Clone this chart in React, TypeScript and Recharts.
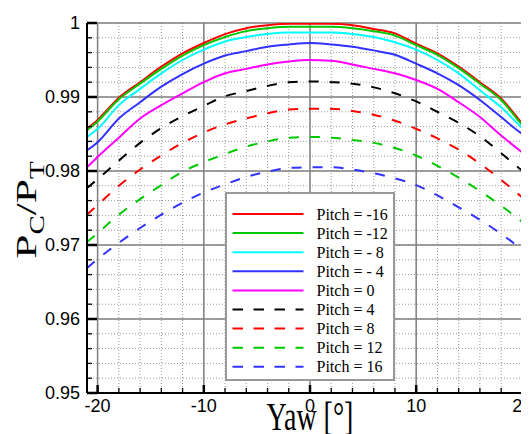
import { LineChart, Line, XAxis, YAxis, CartesianGrid, ReferenceLine, Legend } from 'recharts';

// Yaw angle samples (deg)
const yaw = [-21, -20, -18, -16, -14, -12, -10, -8, -6, -4, -2, 0, 2, 4, 6, 8, 10, 12, 14, 16, 18, 20, 21];

// Pressure ratio PC/PT for each pitch angle
const pitchM16 = [0.9857, 0.9869, 0.9899, 0.992, 0.9941, 0.9959, 0.9973, 0.9985, 0.9993, 0.9997, 0.9999, 0.9999, 0.9999, 0.9997, 0.9992, 0.9986, 0.9972, 0.9959, 0.9941, 0.992, 0.9898, 0.9864, 0.9849];
const pitchM12 = [0.9855, 0.9867, 0.9897, 0.9918, 0.9938, 0.9956, 0.997, 0.9981, 0.9989, 0.9993, 0.9995, 0.9995, 0.9995, 0.9993, 0.9989, 0.9983, 0.997, 0.9957, 0.9939, 0.9918, 0.9896, 0.9862, 0.9848];
const pitchM8 = [0.9846, 0.9857, 0.9889, 0.9911, 0.9932, 0.995, 0.9964, 0.9975, 0.9981, 0.9985, 0.9987, 0.9987, 0.9987, 0.9985, 0.9981, 0.9974, 0.9964, 0.995, 0.9932, 0.9909, 0.9886, 0.9858, 0.9846];
const pitchM4 = [0.9828, 0.9839, 0.9871, 0.9893, 0.9914, 0.9931, 0.9945, 0.9956, 0.9962, 0.9968, 0.9971, 0.9973, 0.9971, 0.9968, 0.9963, 0.9957, 0.9945, 0.9932, 0.9916, 0.9896, 0.9873, 0.985, 0.9842];
const pitch0 = [0.9805, 0.9819, 0.9845, 0.9871, 0.9889, 0.9905, 0.992, 0.9932, 0.9938, 0.9944, 0.9948, 0.995, 0.9949, 0.9944, 0.9938, 0.9932, 0.9923, 0.9911, 0.9893, 0.9873, 0.9848, 0.9825, 0.9814];
const pitch4 = [0.9777, 0.9789, 0.9814, 0.9838, 0.9858, 0.9874, 0.9888, 0.9901, 0.9908, 0.9915, 0.992, 0.9921, 0.992, 0.9918, 0.9913, 0.9905, 0.9894, 0.988, 0.9865, 0.9847, 0.9824, 0.98, 0.9787];
const pitch8 = [0.9741, 0.9754, 0.978, 0.9802, 0.9821, 0.9838, 0.9852, 0.9863, 0.9871, 0.9878, 0.9883, 0.9884, 0.9884, 0.9881, 0.9876, 0.9868, 0.9857, 0.9844, 0.9829, 0.981, 0.9788, 0.9764, 0.9751];
const pitch12 = [0.9704, 0.9716, 0.9741, 0.9762, 0.9781, 0.9799, 0.9812, 0.9823, 0.9833, 0.984, 0.9845, 0.9846, 0.9845, 0.9842, 0.9838, 0.9831, 0.9821, 0.9807, 0.9791, 0.9773, 0.9753, 0.9731, 0.9719];
const pitch16 = [0.9669, 0.9681, 0.9703, 0.9723, 0.9741, 0.9757, 0.9771, 0.9782, 0.9792, 0.9799, 0.9804, 0.9805, 0.9805, 0.9802, 0.9797, 0.979, 0.9781, 0.9767, 0.9751, 0.9734, 0.9715, 0.9693, 0.968];

const seriesNames = ['Pitch = -16', 'Pitch = -12', 'Pitch = - 8', 'Pitch = - 4', 'Pitch = 0', 'Pitch = 4', 'Pitch = 8', 'Pitch = 12', 'Pitch = 16'];

// Axis ticks: minor every 2 deg / 0.002, labels on the major ones
const xTicks = [-20, -18, -16, -14, -12, -10, -8, -6, -4, -2, 0, 2, 4, 6, 8, 10, 12, 14, 16, 18, 20];
const xMajor = [-20, -10, 0, 10, 20];
const yTicks = [
  0.95, 0.952, 0.954, 0.956, 0.958, 0.96, 0.962, 0.964, 0.966, 0.968, 0.97, 0.972, 0.974,
  0.976, 0.978, 0.98, 0.982, 0.984, 0.986, 0.988, 0.99, 0.992, 0.994, 0.996, 0.998, 1,
];
const yMajor = [0.95, 0.96, 0.97, 0.98, 0.99, 1];

const series = [
  { key: 'm16', name: seriesNames[0], values: pitchM16, color: '#ff0000', dashed: false },
  { key: 'm12', name: seriesNames[1], values: pitchM12, color: '#00c800', dashed: false },
  { key: 'm8', name: seriesNames[2], values: pitchM8, color: '#00ffff', dashed: false },
  { key: 'm4', name: seriesNames[3], values: pitchM4, color: '#3232ff', dashed: false },
  { key: 'p0', name: seriesNames[4], values: pitch0, color: '#ff00ff', dashed: false },
  { key: 'p4', name: seriesNames[5], values: pitch4, color: '#000000', dashed: true },
  { key: 'p8', name: seriesNames[6], values: pitch8, color: '#ff0000', dashed: true },
  { key: 'p12', name: seriesNames[7], values: pitch12, color: '#00c800', dashed: true },
  { key: 'p16', name: seriesNames[8], values: pitch16, color: '#3232ff', dashed: true },
];

const chartData = yaw.map((x, i) => {
  const row: Record<string, number> = { yaw: x };
  series.forEach((s) => {
    row[s.key] = s.values[i];
  });
  return row;
});

const SANS = "'Liberation Sans', Arial, sans-serif";
const SERIF = "'Liberation Serif', 'Times New Roman', serif";

const isMajorY = (v: number) => yMajor.some((m) => Math.abs(m - v) < 1e-9);

// ticks point into the plot, only major ones get a label
const XTick = ({ x, y, payload }: any) => {
  const major = xMajor.includes(payload.value);
  return (
    <g>
      <line x1={x} x2={x} y1={y} y2={y - (major ? 8 : 5)} stroke="#000" strokeWidth={major ? 2.5 : 1.3} />
      {major && (
        <text x={x} y={y + 19} textAnchor="middle" fontSize={18} fontFamily={SANS} fill="#000">
          {payload.value}
        </text>
      )}
    </g>
  );
};

const YTick = ({ x, y, payload }: any) => {
  const major = isMajorY(payload.value);
  return (
    <g>
      <line x1={x} x2={x + (major ? 10 : 5)} y1={y} y2={y} stroke="#000" strokeWidth={major ? 2.5 : 1.3} />
      {major && (
        <text x={x - 7} y={y} dy="0.36em" textAnchor="end" fontSize={18} fontFamily={SANS} fill="#000">
          {payload.value === 1 ? '1' : payload.value.toFixed(2)}
        </text>
      )}
    </g>
  );
};

// titles in the source figure are stretched vertically
const YTitle = (props: any) => {
  const vb = props.viewBox || { x: 0, y: 15, width: 79, height: 370 };
  const cx = vb.x + 28;
  const cy = vb.y + vb.height / 2 + 2;
  return (
    <text
      transform={`translate(${cx},${cy}) rotate(-90) scale(1.45,1)`}
      textAnchor="middle"
      fontSize={30}
      fontFamily={SERIF}
      fill="#000"
    >
      P<tspan dy={8} fontSize={20}>C</tspan>
      <tspan dy={-8}>/P</tspan>
      <tspan dy={8} fontSize={20}>T</tspan>
    </text>
  );
};

const XTitle = (props: any) => {
  const vb = props.viewBox || { x: 79, y: 385, width: 446, height: 41 };
  return (
    <text
      transform={`translate(${vb.x + vb.width / 2},${vb.y + 37}) scale(1,1.4)`}
      textAnchor="middle"
      fontSize={28}
      fontFamily={SERIF}
      fill="#000"
    >
      Yaw [°]
    </text>
  );
};

const LegendBox = () => (
  <svg width={170} height={189} style={{ display: 'block' }}>
    <rect x={1} y={1} width={168} height={187} fill="#fff" stroke="#999" strokeWidth={2} />
    {series.map((s, i) => {
      const cy = 22 + i * 19.1;
      return (
        <g key={s.key}>
          <line
            x1={7.5}
            x2={78.5}
            y1={cy}
            y2={cy}
            stroke={s.color}
            strokeWidth={2}
            strokeDasharray={s.dashed ? '10.5 10.5' : undefined}
          />
          <text x={91.5} y={cy + 5.5} fontSize={16} fontFamily={SERIF} fill="#000">
            {s.name}
          </text>
        </g>
      );
    })}
  </svg>
);

export default function App() {
  return (
    <div style={{ width: 521, height: 426, overflow: 'hidden' }}>
      <LineChart width={540} height={426} data={chartData} margin={{ top: 15, right: 15, bottom: 0, left: 0 }}>
        <CartesianGrid stroke="#9a9a9a" strokeDasharray="1 2" />
        <XAxis
          type="number"
          dataKey="yaw"
          domain={[-21, 21]}
          ticks={xTicks}
          interval={0}
          height={41}
          tickSize={0}
          tickMargin={0}
          tickLine={false}
          tick={<XTick />}
          axisLine={{ stroke: '#000', strokeWidth: 2 }}
          label={<XTitle />}
          allowDataOverflow
        />
        <YAxis
          type="number"
          domain={[0.95, 1]}
          ticks={yTicks}
          interval={0}
          width={79}
          tickSize={0}
          tickMargin={0}
          tickLine={false}
          tick={<YTick />}
          axisLine={{ stroke: '#000', strokeWidth: 2 }}
          label={<YTitle />}
          allowDataOverflow
        />
        {xMajor.map((v) => (
          <ReferenceLine key={`vx${v}`} x={v} stroke="#808080" strokeWidth={1.5} />
        ))}
        {yMajor.slice(1).map((v) => (
          <ReferenceLine key={`hy${v}`} y={v} stroke="#808080" strokeWidth={1.5} />
        ))}
        {series.map((s) => (
          <Line
            key={s.key}
            type="monotone"
            dataKey={s.key}
            name={s.name}
            stroke={s.color}
            strokeWidth={2}
            strokeDasharray={s.dashed ? '10 11' : undefined}
            dot={false}
            activeDot={false}
            isAnimationActive={false}
          />
        ))}
        <Legend
          layout="vertical"
          align="center"
          verticalAlign="middle"
          content={<LegendBox />}
          wrapperStyle={{ left: 217, top: 184, width: 170, height: 189 }}
        />
      </LineChart>
    </div>
  );
}
